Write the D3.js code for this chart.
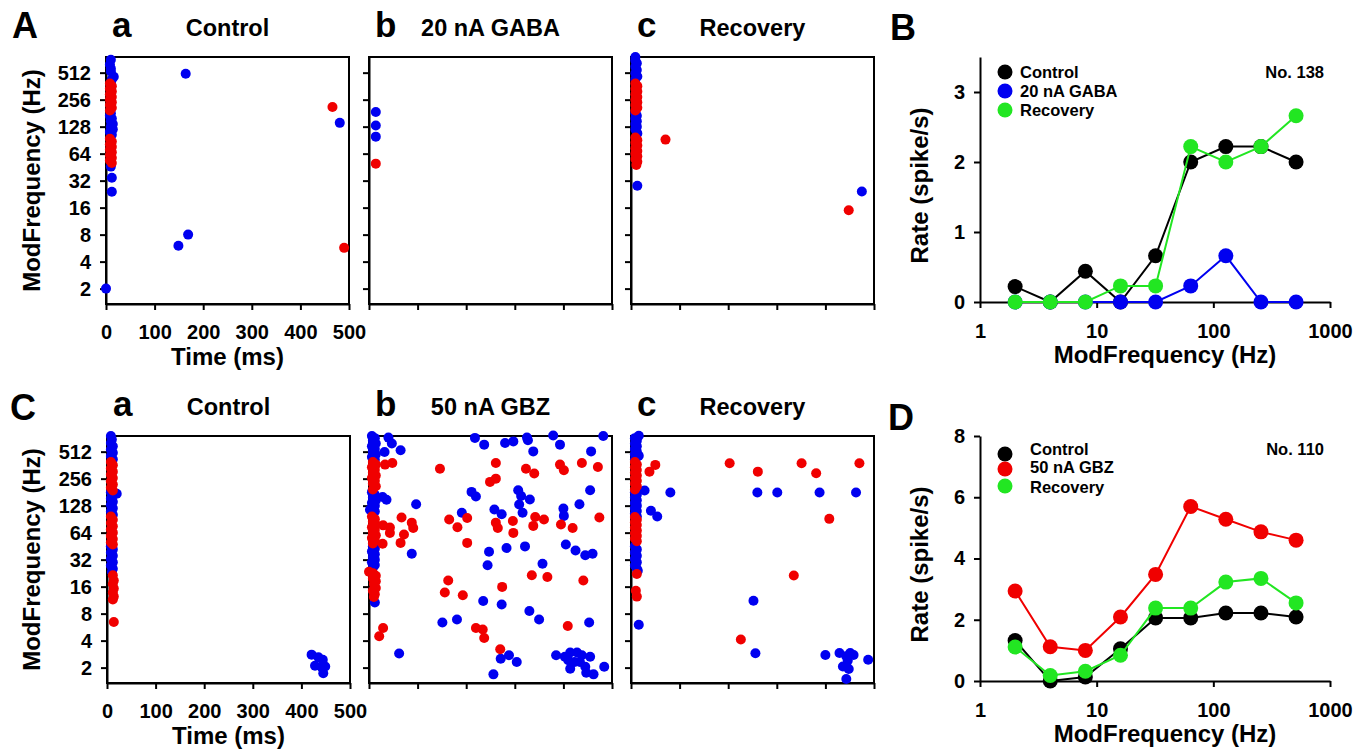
<!DOCTYPE html>
<html>
<head>
<meta charset="utf-8">
<script src="https://cdn.jsdelivr.net/npm/d3@7"></script>
<style>
  body { margin: 0; background: #fff; }
  text { font-family: "Liberation Sans", Arial, sans-serif; font-weight: bold; fill: #000; }
</style>
</head>
<body>
<script>
// ---- raster data: [time (ms), log2 ModFrequency] ----
const timeTicks = [0, 100, 200, 300, 400, 500];
const octTicks = [1, 2, 3, 4, 5, 6, 7, 8, 9];

const aaBlue = [[10,9.48],[8,9.3],[10,9.15],[10,9.04],[16,8.85],[12,8.75],[10,8.63],
  [10,7.5],[8,7.4],[12,7.3],[10,7.2],[14,7.1],[10,7.0],[14,6.9],[8,6.8],[12,6.7],
  [10,5.52],[12,5.11],[12,4.59],[0,1.0],[164,8.96],[481,7.14],[149,2.59],[169,3.0]];
const aaRed = [[8,8.6],[12,8.5],[8,8.4],[12,8.3],[8,8.2],[12,8.1],[8,8.0],[12,7.9],[8,7.8],[12,7.7],[8,7.6],
  [8,6.55],[12,6.45],[8,6.35],[12,6.25],[8,6.15],[12,6.05],[8,5.95],[12,5.85],[8,5.75],[12,5.65],
  [466,7.73],[490,2.51]];

const abBlue = [[14,7.54],[14,7.04],[14,6.63]];
const abRed = [[14,5.63]];

const acBlue = [[9,9.58],[9,9.45],[12,9.35],[9,9.22],[12,9.1],[9,8.98],[13,8.86],[9,8.75],
  [9,7.5],[12,7.4],[9,7.3],[12,7.2],[9,7.1],[12,7.0],[9,6.9],[13,6.75],
  [13,4.81],[475,4.6]];
const acRed = [[9,8.6],[13,8.5],[9,8.4],[13,8.3],[9,8.2],[13,8.1],[9,8.0],[13,7.9],[9,7.8],[13,7.7],[9,7.6],
  [9,6.6],[13,6.5],[9,6.4],[13,6.3],[9,6.2],[13,6.1],[9,6.0],[13,5.9],[9,5.8],[13,5.7],[11,5.58],
  [71,6.52],[448,3.9]];

const caBlue = [[8,9.58],[10,9.45],[8,9.32],[12,9.2],[8,9.08],[12,8.96],[8,8.84],[12,8.72],
  [8,7.5],[12,7.38],[8,7.26],[12,7.14],[8,7.02],[12,6.9],[8,6.78],[12,6.66],[20,7.44],
  [8,5.5],[12,5.38],[8,5.26],[12,5.14],[8,5.02],[12,4.9],[8,4.78],[12,4.66],[10,4.55],
  [421,1.48],[435,1.38],[444,1.29],[428,1.07],[442,1.01],[449,1.04],[445,0.79]];
const caRed = [[8,8.62],[12,8.5],[8,8.38],[12,8.26],[8,8.14],[12,8.02],[8,7.9],[12,7.78],[8,7.66],[12,7.56],
  [8,6.6],[12,6.48],[8,6.36],[12,6.24],[8,6.12],[12,6.0],[8,5.88],[12,5.76],[8,5.64],[12,5.56],
  [12,4.42],[14,4.23],[12,4.1],[14,3.93],[12,3.78],[14,3.63],[12,3.52],[14,2.69]];

const cbBlue = [[6,9.58],[12,9.5],[8,9.4],[14,9.3],[6,9.2],[12,9.1],[8,9.0],[14,8.9],[6,8.8],[12,8.7],
  [6,7.5],[12,7.4],[8,7.3],[14,7.2],[6,7.1],[12,7.0],[8,6.9],[2,6.85],[12,6.78],
  [8,5.5],[12,5.4],[6,5.3],[12,5.2],[8,5.1],[12,5.0],[6,4.9],[12,4.8],[8,4.7],[12,3.41],
  [40,9.52],[47,9.3],[32,8.99],[65,9.05],[218,9.51],[237,9.26],
  [28,7.32],[36,7.22],[97,7.05],[211,7.51],[220,7.34],[191,6.74],
  [88,5.22],[247,5.29],[244,4.79],[235,3.47],[151,2.67],[181,2.78],[62,1.52],
  [280,9.32],[297,9.38],[325,9.52],[327,9.42],[338,9.01],[379,9.6],[393,9.26],[457,9.01],[482,9.58],
  [307,7.57],[313,7.36],[331,7.23],[309,7.04],[316,6.74],[258,6.86],[273,6.68],[400,6.89],[401,6.62],[433,7.05],[455,7.57],
  [283,5.43],[321,5.49],[405,5.56],[425,5.34],[445,5.16],[460,5.22],[357,4.85],
  [273,3.34],[330,3.1],[350,2.78],[453,2.67],
  [271,1.33],[288,1.46],[304,1.21],[256,0.75],
  [385,1.46],[403,1.4],[414,1.56],[428,1.56],[438,1.46],[455,1.4],[410,1.27],[423,1.21],[434,1.21],
  [414,0.96],[445,1.03],[447,0.81],[462,0.75],[484,1.03]];
const cbRed = [[8,8.62],[14,8.52],[6,8.42],[12,8.32],[8,8.22],[14,8.12],[6,8.02],[12,7.92],[8,7.82],[14,7.72],[8,7.6],
  [6,6.6],[12,6.5],[8,6.4],[14,6.3],[6,6.2],[12,6.1],[8,6.0],[14,5.9],[6,5.8],[12,5.7],[8,5.6],
  [0,4.55],[8,4.5],[14,4.4],[8,4.3],[14,4.2],[10,4.1],[14,3.95],[8,3.85],[12,3.72],[10,3.62],
  [33,8.52],[48,8.58],[146,8.37],[249,7.88],[261,8.0],
  [67,6.56],[88,6.37],[91,6.17],[29,6.27],[43,6.19],[43,5.99],[72,5.93],[65,5.62],[28,5.59],
  [165,6.49],[182,6.2],[202,6.54],[202,5.62],
  [163,4.23],[156,3.78],[193,3.68],[29,2.47],[21,2.16],[220,2.47],[234,2.41],[237,2.1],
  [261,8.58],[323,8.37],[340,8.19],[393,8.52],[401,8.31],[438,8.58],[471,8.43],
  [261,6.37],[265,6.17],[296,6.43],[297,5.99],[342,6.58],[360,6.49],[338,6.25],[395,6.3],[419,6.17],[474,6.56],
  [335,4.42],[367,4.36],[441,4.23],[274,3.99],[409,2.54],[270,1.68]];

const ccBlue = [[8,9.5],[12,9.4],[8,9.3],[12,9.2],[8,9.1],[12,9.0],[8,8.9],[12,8.8],[8,8.7],[16,9.59],[16,8.85],
  [8,7.5],[12,7.4],[8,7.3],[12,7.2],[8,7.1],[12,7.0],[8,6.9],[12,6.8],[8,6.7],[12,6.6],
  [8,5.5],[12,5.38],[8,5.26],[12,5.14],[8,5.02],[12,4.9],[8,4.78],[12,4.66],[14,4.59],[16,2.59],
  [28,7.56],[81,7.49],[260,7.49],[301,7.49],[388,7.49],[463,7.49],[41,6.81],[54,6.6],[252,3.48],
  [256,1.53],[400,1.47],[429,1.54],[443,1.42],[451,1.54],[458,1.47],[436,1.04],[448,0.95],[443,0.58],[488,1.29],[446,1.26]];
const ccRed = [[8,8.62],[12,8.52],[8,8.42],[12,8.32],[8,8.22],[12,8.12],[8,8.02],[12,7.92],[8,7.82],[12,7.72],[8,7.6],
  [8,6.58],[12,6.48],[8,6.38],[12,6.28],[8,6.18],[12,6.08],[8,5.98],[12,5.88],[8,5.78],[12,5.68],
  [12,4.47],[10,3.85],[12,3.63],
  [50,8.51],[38,8.26],[203,8.57],[261,8.26],[351,8.57],[381,8.2],[470,8.57],[408,6.51],[335,4.41],[226,2.04]];

// ---- rate data ----
const modFreqs = [2, 4, 8, 16, 32, 64, 128, 256, 512];
const freqTicks = [1, 10, 100, 1000];
const rateBControl = [0.22, 0, 0.44, 0, 0.66, 2.0, 2.22, 2.22, 2.0];
const rateBGaba = [0, 0, 0, 0, 0, 0.23, 0.66, 0, 0];
const rateBRecovery = [0, 0, 0, 0.23, 0.23, 2.22, 2.0, 2.22, 2.66];
const rateDControl = [1.32, 0, 0.13, 1.05, 2.06, 2.06, 2.22, 2.22, 2.09];
const rateDGbz = [2.94, 1.12, 1.0, 2.09, 3.48, 5.7, 5.28, 4.87, 4.6];
const rateDRecovery = [1.11, 0.18, 0.32, 0.84, 2.38, 2.38, 3.23, 3.35, 2.55];

const BLUE = "#0000f0", RED = "#f00000", GREEN = "#22e622", BLACK = "#000";

const svg = d3.select("body").append("svg").attr("width", 1369).attr("height", 756);

const rw = 243, rh = 247;

function styleAxis(s, size) {
  s.selectAll("text").style("font-size", size + "px").style("font-family", '"Liberation Sans", Arial, sans-serif').style("font-weight", "bold");
  s.selectAll("line").attr("stroke", "#000").attr("stroke-width", 2);
  s.select(".domain").attr("stroke", "#000").attr("stroke-width", 2);
}

function drawRaster(px, py, blue, red, labels, letter, title) {
  const g = svg.append("g").attr("transform", `translate(${px},${py})`);
  const x = d3.scaleLinear().domain([0, 500]).range([0, rw]);
  const y = d3.scaleLinear().domain([0.43, 9.58]).range([rh, 0]);

  const xa = d3.axisBottom(x).tickValues(timeTicks).tickSize(6).tickPadding(15).tickSizeOuter(0);
  const ya = d3.axisLeft(y).tickValues(octTicks).tickSize(6).tickPadding(9).tickSizeOuter(0)
    .tickFormat(d => Math.pow(2, d));
  if (!labels) { xa.tickFormat(""); ya.tickFormat(""); }
  g.append("g").attr("transform", `translate(0,${rh})`).call(xa).call(s => styleAxis(s, 20));
  g.append("g").call(ya).call(s => styleAxis(s, 20));

  g.append("rect").attr("width", rw).attr("height", rh)
    .attr("fill", "none").attr("stroke", "#000").attr("stroke-width", 2);

  g.selectAll(".b").data(blue).enter().append("circle")
    .attr("cx", d => x(d[0])).attr("cy", d => y(d[1])).attr("r", 5).attr("fill", BLUE);
  g.selectAll(".r").data(red).enter().append("circle")
    .attr("cx", d => x(d[0])).attr("cy", d => y(d[1])).attr("r", 5).attr("fill", RED);

  g.append("text").attr("x", 6).attr("y", -20).style("font-size", "35px").text(letter);
  g.append("text").attr("x", rw / 2).attr("y", -21).attr("text-anchor", "middle")
    .style("font-size", "23.5px").text(title);

  if (labels) {
    g.append("text").attr("x", rw / 2).attr("y", rh + 61).attr("text-anchor", "middle")
      .style("font-size", "24px").text("Time (ms)");
    g.append("text").attr("transform", `translate(${39.5 - px},${rh / 2}) rotate(-90)`)
      .attr("text-anchor", "middle").style("font-size", "24px").text("ModFrequency (Hz)");
  }
}

function drawRate(top, bottom, yMax, yTicks, series, legend, note) {
  const x = d3.scaleLog().domain([1, 1000]).range([980, 1330]);
  const y = d3.scaleLinear().domain([0, yMax]).range([bottom, top]);
  const g = svg.append("g");

  g.append("g").attr("transform", `translate(0,${bottom})`)
    .call(d3.axisBottom(x).tickValues(freqTicks).tickFormat(d3.format("d")).tickSize(6).tickPadding(16).tickSizeOuter(0))
    .call(s => styleAxis(s, 20));
  g.append("g").attr("transform", "translate(980,0)")
    .call(d3.axisLeft(y).tickValues(yTicks).tickFormat(d3.format("d")).tickSize(6).tickPadding(9).tickSizeOuter(0))
    .call(s => styleAxis(s, 20));

  const line = d3.line().x((d, i) => x(modFreqs[i])).y(d => y(d));
  series.forEach(s => {
    g.append("path").datum(s.values).attr("d", line)
      .attr("fill", "none").attr("stroke", s.color).attr("stroke-width", 2);
    g.selectAll(null).data(s.values).enter().append("circle")
      .attr("cx", (d, i) => x(modFreqs[i])).attr("cy", d => y(d)).attr("r", 7.5).attr("fill", s.color);
  });

  legend.items.forEach((it, i) => {
    g.append("circle").attr("cx", 1005).attr("cy", legend.cy[i]).attr("r", 7.5).attr("fill", it.color);
    g.append("text").attr("x", legend.tx).attr("y", legend.ty[i]).attr("dy", "0.35em")
      .style("font-size", "16.5px").text(it.name);
  });
  g.append("text").attr("x", 1324).attr("y", legend.ty[0]).attr("dy", "0.35em")
    .attr("text-anchor", "end").style("font-size", "16.5px").text(note);

  g.append("text").attr("x", 1165).attr("y", bottom + 61).attr("text-anchor", "middle")
    .style("font-size", "24px").text("ModFrequency (Hz)");
  g.append("text").attr("transform", `translate(928,${(top + bottom) / 2 + 6}) rotate(-90)`)
    .attr("text-anchor", "middle").style("font-size", "24px").text("Rate (spike/s)");
}

// top row
drawRaster(106, 57, aaBlue, aaRed, true, "a", "Control");
drawRaster(369, 57, abBlue, abRed, false, "b", "20 nA GABA");
drawRaster(631, 57, acBlue, acRed, false, "c", "Recovery");
// bottom row
drawRaster(107, 436, caBlue, caRed, true, "a", "Control");
drawRaster(369, 436, cbBlue, cbRed, false, "b", "50 nA GBZ");
drawRaster(631, 436, ccBlue, ccRed, false, "c", "Recovery");

drawRate(57, 302, 3.5, [0, 1, 2, 3],
  [{ values: rateBControl, color: BLACK }, { values: rateBGaba, color: BLUE }, { values: rateBRecovery, color: GREEN }],
  { items: [{ name: "Control", color: BLACK }, { name: "20 nA GABA", color: BLUE }, { name: "Recovery", color: GREEN }],
    cy: [72, 91, 110], ty: [72, 91, 110], tx: 1020 },
  "No. 138");

drawRate(436, 681, 8, [0, 2, 4, 6, 8],
  [{ values: rateDControl, color: BLACK }, { values: rateDGbz, color: RED }, { values: rateDRecovery, color: GREEN }],
  { items: [{ name: "Control", color: BLACK }, { name: "50 nA GBZ", color: RED }, { name: "Recovery", color: GREEN }],
    cy: [454, 469, 486], ty: [449, 467, 487], tx: 1030 },
  "No. 110");

// panel letters
[["A", 12, 38], ["B", 890, 40], ["C", 10, 420], ["D", 888, 430]].forEach(([t, x, y]) => {
  svg.append("text").attr("x", x).attr("y", y).style("font-size", "36px").text(t);
});
</script>
</body>
</html>
